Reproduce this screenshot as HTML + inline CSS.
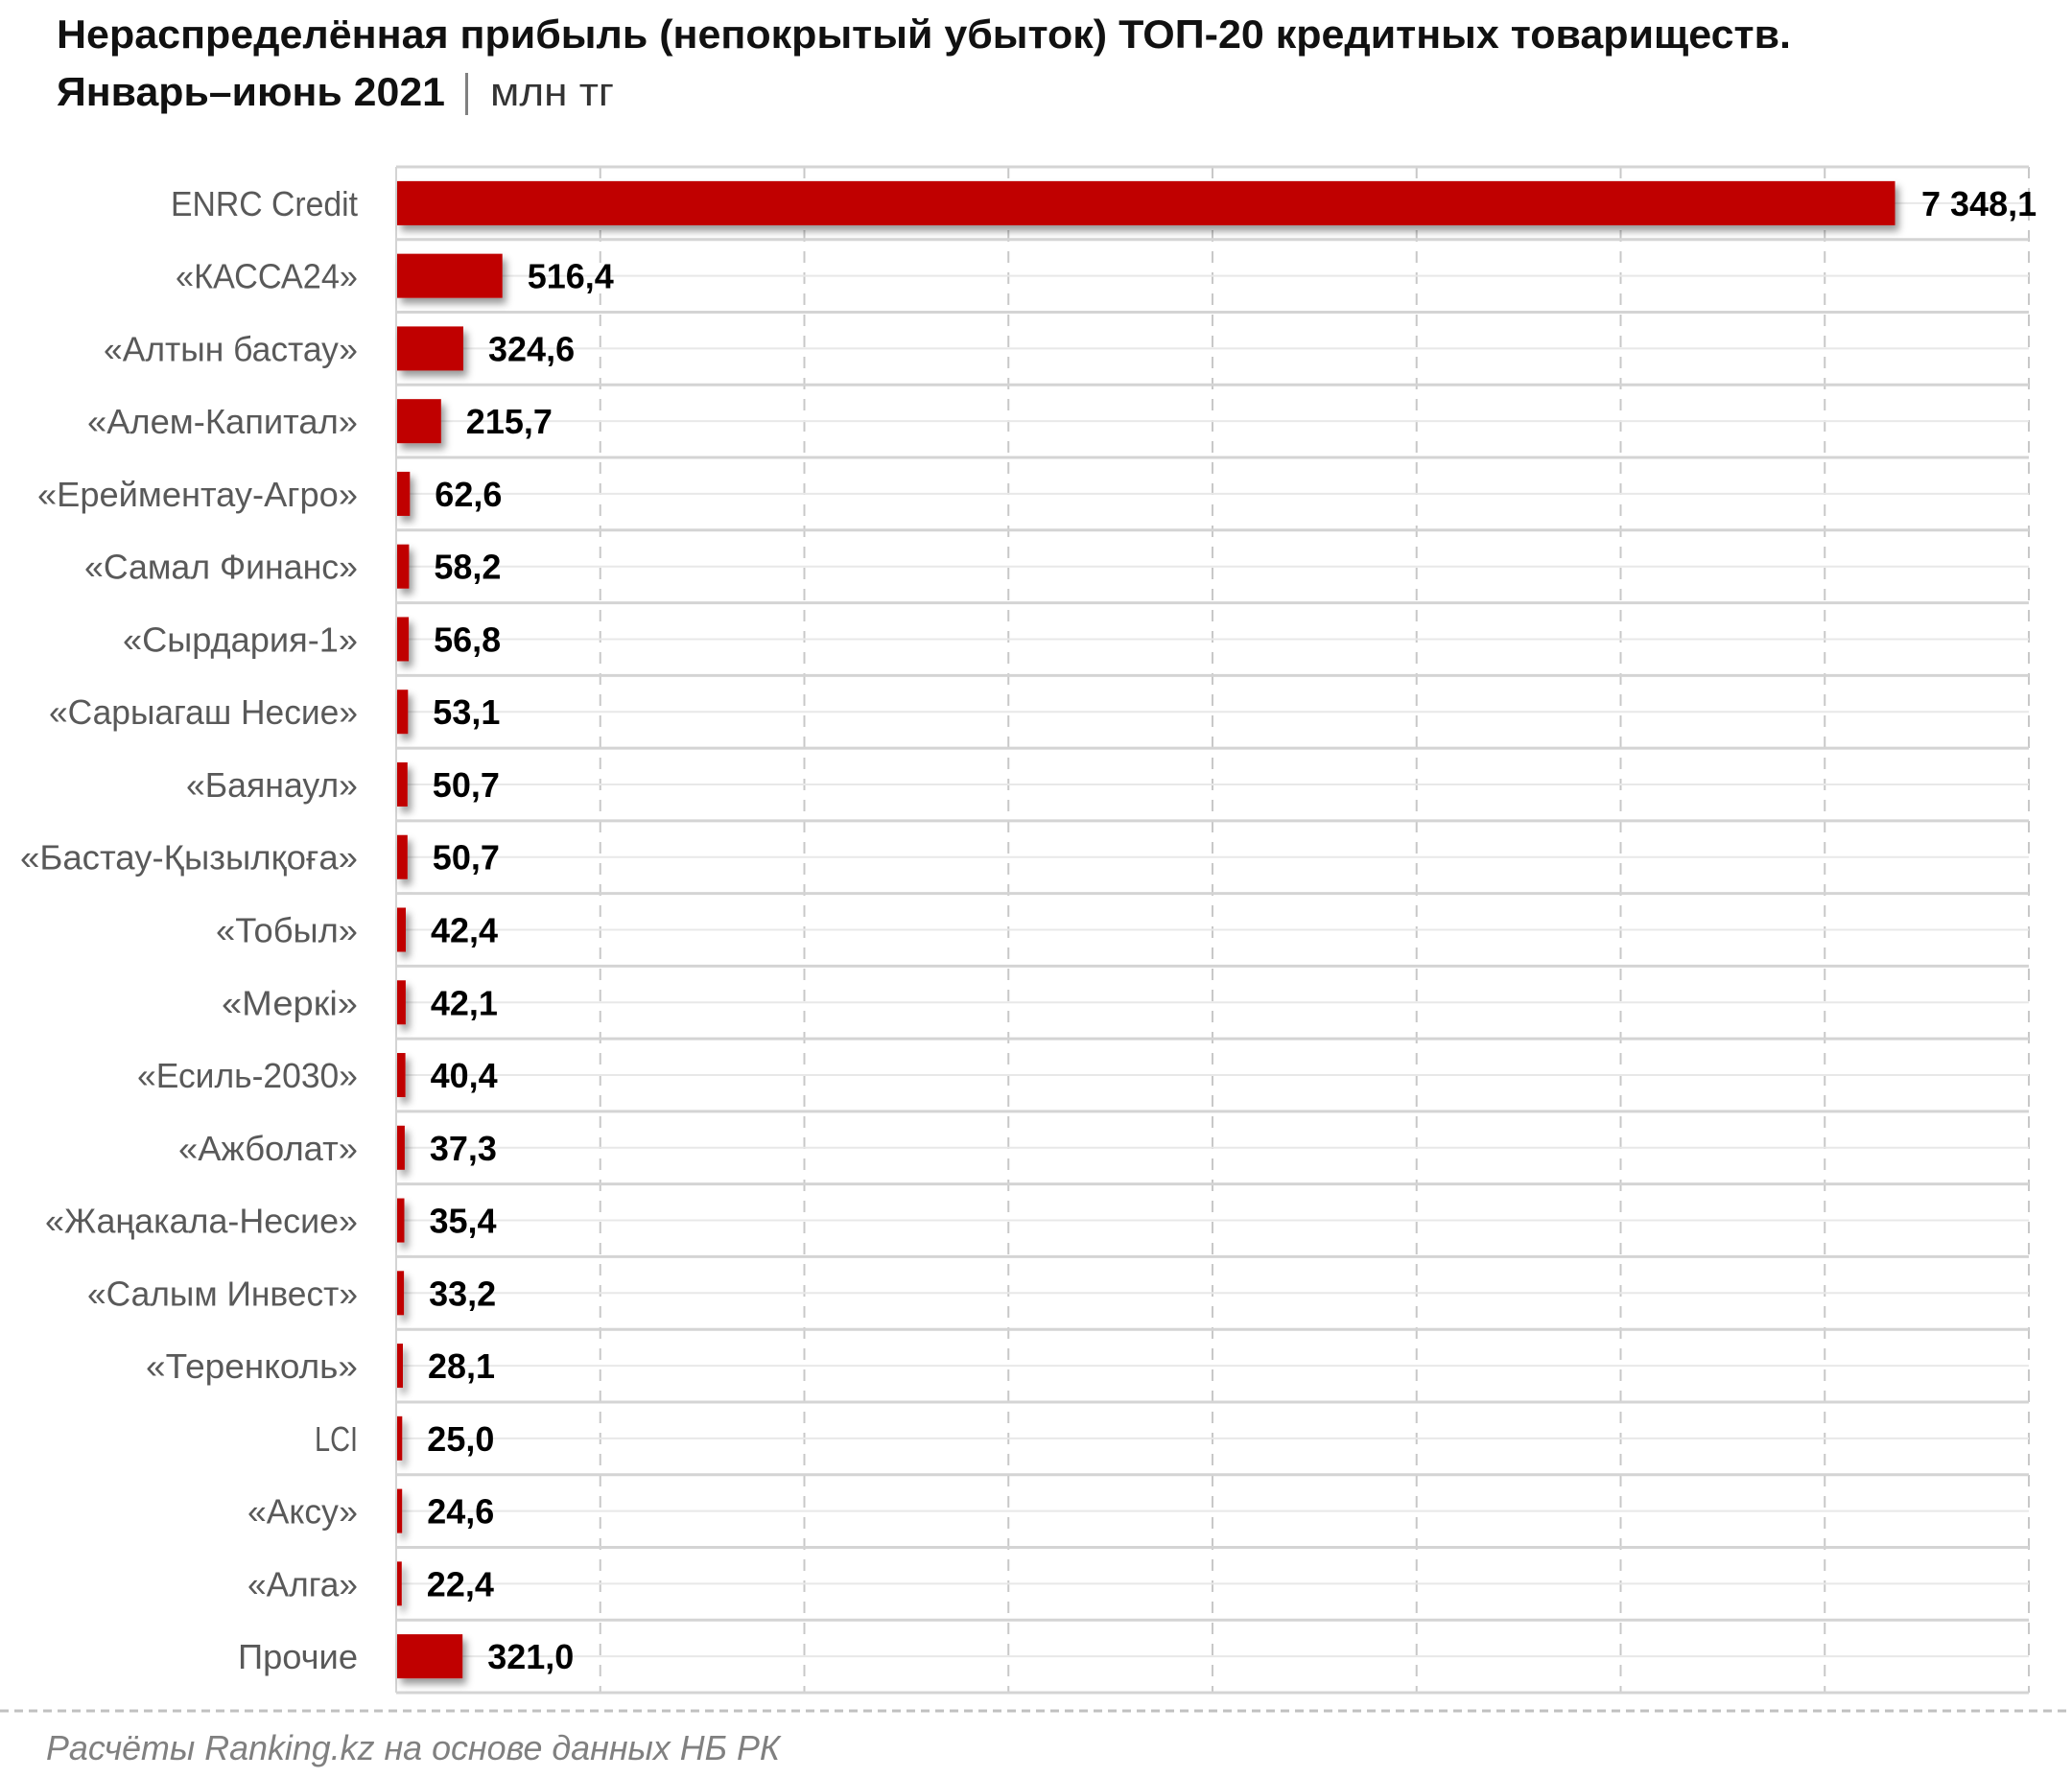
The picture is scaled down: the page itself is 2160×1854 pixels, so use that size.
<!DOCTYPE html>
<html>
<head>
<meta charset="utf-8">
<style>
html,body{margin:0;padding:0;background:#fff;}
svg{display:block;}
.lab{font-family:"Liberation Sans","DejaVu Sans",sans-serif;font-size:36px;fill:#595959;}
.val{font-family:"Liberation Sans","DejaVu Sans",sans-serif;font-size:36px;font-weight:bold;fill:#000;}
</style>
</head>
<body>
<svg width="2160" height="1854" viewBox="0 0 2160 1854" xmlns="http://www.w3.org/2000/svg">
<defs>
<filter id="sh" x="-20%" y="-40%" width="160%" height="200%">
<feDropShadow dx="4" dy="6" stdDeviation="4" flood-color="#000" flood-opacity="0.4"/>
</filter>
</defs>
<rect width="2160" height="1854" fill="#fff"/>

<!-- Title -->
<text x="59" y="50" font-family="Liberation Sans, DejaVu Sans, sans-serif" font-size="42" font-weight="bold" fill="#111" textLength="1808" lengthAdjust="spacingAndGlyphs">Нераспределённая прибыль (непокрытый убыток) ТОП-20 кредитных товариществ.</text>
<text x="59" y="110" font-family="Liberation Sans, DejaVu Sans, sans-serif" font-size="42" font-weight="bold" fill="#111" textLength="405" lengthAdjust="spacingAndGlyphs">Январь–июнь 2021</text>
<rect x="485" y="76" width="3" height="44" fill="#808080"/>
<text x="511" y="110" font-family="Liberation Sans, DejaVu Sans, sans-serif" font-size="42" fill="#333" textLength="129" lengthAdjust="spacingAndGlyphs">млн тг</text>

<!-- vertical dashed gridlines -->
<g stroke="#c8c8c8" stroke-width="2" stroke-dasharray="12 10">
<line x1="625.75" y1="174" x2="625.75" y2="1765"/>
<line x1="838.5" y1="174" x2="838.5" y2="1765"/>
<line x1="1051.25" y1="174" x2="1051.25" y2="1765"/>
<line x1="1264" y1="174" x2="1264" y2="1765"/>
<line x1="1476.75" y1="174" x2="1476.75" y2="1765"/>
<line x1="1689.5" y1="174" x2="1689.5" y2="1765"/>
<line x1="1902.25" y1="174" x2="1902.25" y2="1765"/>
<line x1="2115" y1="174" x2="2115" y2="1765"/>
</g>

<!-- minor horizontal lines (row centers) -->
<g stroke="#e8e8e8" stroke-width="2">
<line x1="413" x2="2115" y1="211.88" y2="211.88"/>
<line x1="413" x2="2115" y1="287.64" y2="287.64"/>
<line x1="413" x2="2115" y1="363.41" y2="363.41"/>
<line x1="413" x2="2115" y1="439.17" y2="439.17"/>
<line x1="413" x2="2115" y1="514.93" y2="514.93"/>
<line x1="413" x2="2115" y1="590.69" y2="590.69"/>
<line x1="413" x2="2115" y1="666.45" y2="666.45"/>
<line x1="413" x2="2115" y1="742.21" y2="742.21"/>
<line x1="413" x2="2115" y1="817.98" y2="817.98"/>
<line x1="413" x2="2115" y1="893.74" y2="893.74"/>
<line x1="413" x2="2115" y1="969.50" y2="969.50"/>
<line x1="413" x2="2115" y1="1045.26" y2="1045.26"/>
<line x1="413" x2="2115" y1="1121.02" y2="1121.02"/>
<line x1="413" x2="2115" y1="1196.78" y2="1196.78"/>
<line x1="413" x2="2115" y1="1272.55" y2="1272.55"/>
<line x1="413" x2="2115" y1="1348.31" y2="1348.31"/>
<line x1="413" x2="2115" y1="1424.07" y2="1424.07"/>
<line x1="413" x2="2115" y1="1499.83" y2="1499.83"/>
<line x1="413" x2="2115" y1="1575.59" y2="1575.59"/>
<line x1="413" x2="2115" y1="1651.35" y2="1651.35"/>
<line x1="413" x2="2115" y1="1727.12" y2="1727.12"/>
</g>

<!-- major horizontal lines (row boundaries) -->
<g stroke="#d4d4d4" stroke-width="3">
<line x1="413" x2="2115" y1="174" y2="174"/>
<line x1="413" x2="2115" y1="249.76" y2="249.76"/>
<line x1="413" x2="2115" y1="325.52" y2="325.52"/>
<line x1="413" x2="2115" y1="401.29" y2="401.29"/>
<line x1="413" x2="2115" y1="477.05" y2="477.05"/>
<line x1="413" x2="2115" y1="552.81" y2="552.81"/>
<line x1="413" x2="2115" y1="628.57" y2="628.57"/>
<line x1="413" x2="2115" y1="704.33" y2="704.33"/>
<line x1="413" x2="2115" y1="780.10" y2="780.10"/>
<line x1="413" x2="2115" y1="855.86" y2="855.86"/>
<line x1="413" x2="2115" y1="931.62" y2="931.62"/>
<line x1="413" x2="2115" y1="1007.38" y2="1007.38"/>
<line x1="413" x2="2115" y1="1083.14" y2="1083.14"/>
<line x1="413" x2="2115" y1="1158.91" y2="1158.91"/>
<line x1="413" x2="2115" y1="1234.67" y2="1234.67"/>
<line x1="413" x2="2115" y1="1310.43" y2="1310.43"/>
<line x1="413" x2="2115" y1="1386.19" y2="1386.19"/>
<line x1="413" x2="2115" y1="1461.95" y2="1461.95"/>
<line x1="413" x2="2115" y1="1537.72" y2="1537.72"/>
<line x1="413" x2="2115" y1="1613.48" y2="1613.48"/>
<line x1="413" x2="2115" y1="1689.24" y2="1689.24"/>
<line x1="413" x2="2115" y1="1765" y2="1765"/>
</g>
<!-- left axis -->
<line x1="413" y1="174" x2="413" y2="1765" stroke="#d4d4d4" stroke-width="2"/>

<!-- bars -->
<g fill="#c00000" filter="url(#sh)">
<rect x="414" y="188.88" width="1561.5" height="46"/>
<rect x="414" y="264.64" width="109.7" height="46"/>
<rect x="414" y="340.41" width="69.0" height="46"/>
<rect x="414" y="416.17" width="45.8" height="46"/>
<rect x="414" y="491.93" width="13.3" height="46"/>
<rect x="414" y="567.69" width="12.4" height="46"/>
<rect x="414" y="643.45" width="12.1" height="46"/>
<rect x="414" y="719.21" width="11.3" height="46"/>
<rect x="414" y="794.98" width="10.8" height="46"/>
<rect x="414" y="870.74" width="10.8" height="46"/>
<rect x="414" y="946.50" width="9.0" height="46"/>
<rect x="414" y="1022.26" width="8.9" height="46"/>
<rect x="414" y="1098.02" width="8.6" height="46"/>
<rect x="414" y="1173.78" width="7.9" height="46"/>
<rect x="414" y="1249.55" width="7.5" height="46"/>
<rect x="414" y="1325.31" width="7.1" height="46"/>
<rect x="414" y="1401.07" width="6.0" height="46"/>
<rect x="414" y="1476.83" width="5.3" height="46"/>
<rect x="414" y="1552.59" width="5.2" height="46"/>
<rect x="414" y="1628.35" width="4.8" height="46"/>
<rect x="414" y="1704.12" width="68.2" height="46"/>
</g>

<!-- category labels -->
<g class="lab" text-anchor="end">
<text class="lab" x="373" y="224.88" textLength="195" lengthAdjust="spacingAndGlyphs">ENRC Credit</text>
<text class="lab" x="373" y="300.64" textLength="190" lengthAdjust="spacingAndGlyphs">«КАССА24»</text>
<text class="lab" x="373" y="376.41" textLength="265" lengthAdjust="spacingAndGlyphs">«Алтын бастау»</text>
<text class="lab" x="373" y="452.17" textLength="282" lengthAdjust="spacingAndGlyphs">«Алем-Капитал»</text>
<text class="lab" x="373" y="527.93" textLength="334" lengthAdjust="spacingAndGlyphs">«Ерейментау-Агро»</text>
<text class="lab" x="373" y="603.69" textLength="285" lengthAdjust="spacingAndGlyphs">«Самал Финанс»</text>
<text class="lab" x="373" y="679.45" textLength="245" lengthAdjust="spacingAndGlyphs">«Сырдария-1»</text>
<text class="lab" x="373" y="755.21" textLength="322" lengthAdjust="spacingAndGlyphs">«Сарыагаш Несие»</text>
<text class="lab" x="373" y="830.98" textLength="179" lengthAdjust="spacingAndGlyphs">«Баянаул»</text>
<text class="lab" x="373" y="906.74" textLength="352" lengthAdjust="spacingAndGlyphs">«Бастау-Қызылқоға»</text>
<text class="lab" x="373" y="982.50" textLength="148" lengthAdjust="spacingAndGlyphs">«Тобыл»</text>
<text class="lab" x="373" y="1058.26" textLength="142" lengthAdjust="spacingAndGlyphs">«Меркі»</text>
<text class="lab" x="373" y="1134.02" textLength="230" lengthAdjust="spacingAndGlyphs">«Есиль-2030»</text>
<text class="lab" x="373" y="1209.78" textLength="187" lengthAdjust="spacingAndGlyphs">«Ажболат»</text>
<text class="lab" x="373" y="1285.55" textLength="326" lengthAdjust="spacingAndGlyphs">«Жаңакала-Несие»</text>
<text class="lab" x="373" y="1361.31" textLength="282" lengthAdjust="spacingAndGlyphs">«Салым Инвест»</text>
<text class="lab" x="373" y="1437.07" textLength="221" lengthAdjust="spacingAndGlyphs">«Теренколь»</text>
<text class="lab" x="373" y="1512.83" textLength="45" lengthAdjust="spacingAndGlyphs">LCI</text>
<text class="lab" x="373" y="1588.59" textLength="115" lengthAdjust="spacingAndGlyphs">«Аксу»</text>
<text class="lab" x="373" y="1664.35" textLength="115" lengthAdjust="spacingAndGlyphs">«Алга»</text>
<text class="lab" x="373" y="1740.12" textLength="125" lengthAdjust="spacingAndGlyphs">Прочие</text>
</g>

<!-- value labels -->
<g>
<text class="val" x="2003" y="224.88">7 348,1</text>
<text class="val" x="549.7" y="300.64">516,4</text>
<text class="val" x="509" y="376.41">324,6</text>
<text class="val" x="485.8" y="452.17">215,7</text>
<text class="val" x="453.3" y="527.93">62,6</text>
<text class="val" x="452.4" y="603.69">58,2</text>
<text class="val" x="452.1" y="679.45">56,8</text>
<text class="val" x="451.3" y="755.21">53,1</text>
<text class="val" x="450.8" y="830.98">50,7</text>
<text class="val" x="450.8" y="906.74">50,7</text>
<text class="val" x="449" y="982.50">42,4</text>
<text class="val" x="448.9" y="1058.26">42,1</text>
<text class="val" x="448.6" y="1134.02">40,4</text>
<text class="val" x="447.9" y="1209.78">37,3</text>
<text class="val" x="447.5" y="1285.55">35,4</text>
<text class="val" x="447.1" y="1361.31">33,2</text>
<text class="val" x="446" y="1437.07">28,1</text>
<text class="val" x="445.3" y="1512.83">25,0</text>
<text class="val" x="445.2" y="1588.59">24,6</text>
<text class="val" x="444.8" y="1664.35">22,4</text>
<text class="val" x="508.2" y="1740.12">321,0</text>
</g>

<!-- footer separator -->
<line x1="0" y1="1784" x2="2160" y2="1784" stroke="#c0c0c0" stroke-width="3" stroke-dasharray="9 6"/>

<!-- source -->
<text x="48" y="1835" font-family="Liberation Sans, DejaVu Sans, sans-serif" font-size="36" font-style="italic" fill="#808080" textLength="765" lengthAdjust="spacingAndGlyphs">Расчёты Ranking.kz на основе данных НБ РК</text>
</svg>
</body>
</html>
